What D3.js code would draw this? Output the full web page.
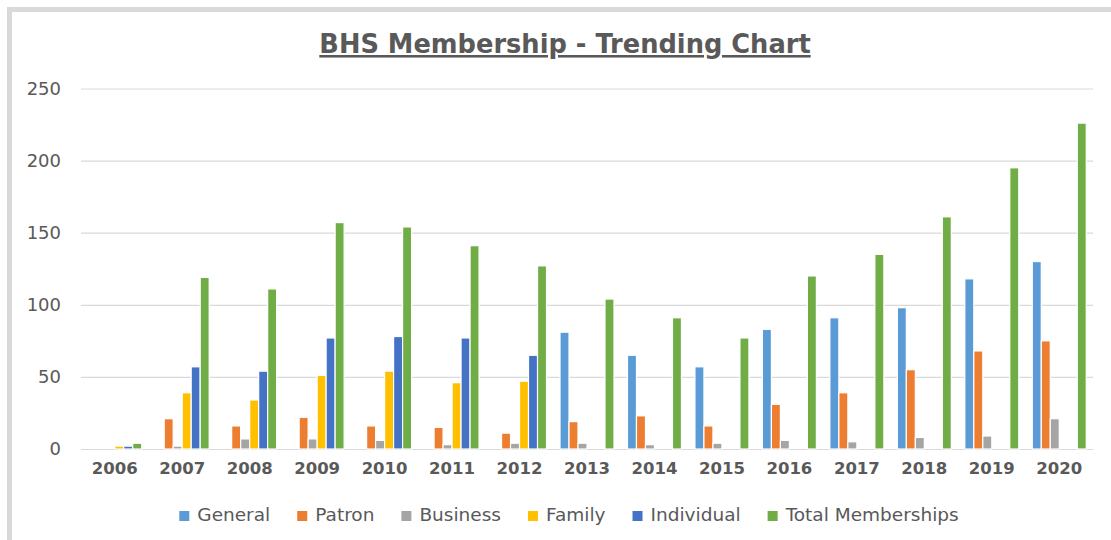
<!DOCTYPE html>
<html lang="en">
<head>
    <meta charset="UTF-8">
    <title>BHS Membership - Trending Chart</title>
    <script src="https://d3js.org/d3.v7.min.js" charset="utf-8"></script>
    <style>
        body {
            margin: 0;
            background: white;
        }
        svg {
            display: block;
            font-family: 'DejaVu Sans', sans-serif;
        }
    </style>
</head>
<body>
    <div id="chart"></div>
    <script>
        // Data
        var years = ['2006', '2007', '2008', '2009', '2010', '2011', '2012', '2013',
                     '2014', '2015', '2016', '2017', '2018', '2019', '2020'];
        var seriesNames = ['General', 'Patron', 'Business', 'Family', 'Individual', 'Total Memberships'];
        var general    = [0, 0, 0, 0, 0, 0, 0, 81, 65, 57, 83, 91, 98, 118, 130];
        var patron     = [0, 21, 16, 22, 16, 15, 11, 19, 23, 16, 31, 39, 55, 68, 75];
        var business   = [0, 2, 7, 7, 6, 3, 4, 4, 3, 4, 6, 5, 8, 9, 21];
        var family     = [2, 39, 34, 51, 54, 46, 47, 0, 0, 0, 0, 0, 0, 0, 0];
        var individual = [2, 57, 54, 77, 78, 77, 65, 0, 0, 0, 0, 0, 0, 0, 0];
        var total      = [4, 119, 111, 157, 154, 141, 127, 104, 91, 77, 120, 135, 161, 195, 226];
        var yTicks = [0, 50, 100, 150, 200, 250];

        var colors = ['#5b9bd5', '#ed7d31', '#a5a5a5', '#ffc000', '#4472c4', '#70ad47'];
        var allSeries = [general, patron, business, family, individual, total];

        var svgwidth = 1111;
        var svgheight = 540;

        var svg = d3.select('#chart').append('svg')
            .attr('width', svgwidth)
            .attr('height', svgheight);

        // grey frame of the chart area (runs off the right and bottom edge)
        svg.append('rect')
            .attr('x', 9.5)
            .attr('y', 9.5)
            .attr('width', 1300)
            .attr('height', 700)
            .attr('fill', 'white')
            .attr('stroke', '#d9d9d9')
            .attr('stroke-width', 5);

        // Title
        svg.append('text')
            .attr('x', 565)
            .attr('y', 53)
            .attr('text-anchor', 'middle')
            .style('font-size', '25.7px')
            .style('font-weight', 'bold')
            .style('fill', '#595959')
            .style('text-decoration', 'underline')
            .text('BHS Membership - Trending Chart');

        // scales
        var x0 = d3.scaleBand()
            .domain(years)
            .range([81, 1093]);

        var x1 = d3.scaleBand()
            .domain(seriesNames)
            .range([0, x0.bandwidth() * 0.8]);

        var y = d3.scaleLinear()
            .domain([0, 250])
            .range([449, 88.5]);

        var color = d3.scaleOrdinal()
            .domain(seriesNames)
            .range(colors);

        // gridlines + y labels
        var yAxis = svg.append('g')
            .attr('transform', 'translate(81,0)')
            .call(d3.axisLeft(y).tickValues(yTicks).tickSize(-(1093 - 81)).tickPadding(20));
        yAxis.select('.domain').remove();
        yAxis.selectAll('.tick line')
            .attr('stroke', '#d9d9d9')
            .attr('stroke-width', 1.2);
        yAxis.selectAll('.tick text')
            .attr('fill', '#595959')
            .style('font-size', '18px')
            .style('font-family', 'DejaVu Sans');

        // x labels (years)
        var xAxis = svg.append('g')
            .attr('transform', 'translate(0,449)')
            .call(d3.axisBottom(x0).tickSize(0).tickPadding(13));
        xAxis.select('.domain').remove();
        xAxis.selectAll('.tick text')
            .attr('fill', '#595959')
            .style('font-size', '16.5px')
            .style('font-weight', 'bold')
            .style('font-family', 'DejaVu Sans');

        // build rows for the grouped bars
        var rows = years.map(function(yr, i) {
            return {
                year: yr,
                values: seriesNames.map(function(name, s) {
                    return { key: name, value: allSeries[s][i] };
                })
            };
        });

        var groups = svg.selectAll('.year')
            .data(rows)
            .enter().append('g')
            .attr('class', 'year')
            .attr('transform', d => 'translate(' + (x0(d.year) + x0.bandwidth() * 0.1) + ',0)');

        groups.selectAll('rect')
            .data(d => d.values.filter(v => v.value > 0))
            .enter().append('rect')
            .attr('x', d => x1(d.key))
            .attr('y', d => y(d.value))
            .attr('width', x1.bandwidth())
            .attr('height', d => y(0) - y(d.value))
            .attr('fill', d => color(d.key))
            .attr('stroke', 'white')
            .attr('stroke-width', 1.2);

        // Legend, centred under the plot
        var legend = svg.append('g');
        var items = legend.selectAll('.legend')
            .data(seriesNames)
            .enter().append('g')
            .attr('class', 'legend');

        items.append('rect')
            .attr('width', 10)
            .attr('height', 10)
            .attr('y', -10)
            .attr('fill', d => color(d));

        items.append('text')
            .attr('x', 18)
            .attr('y', 0)
            .style('font-size', '18.5px')
            .style('fill', '#595959')
            .text(d => d);

        var pos = 0;
        items.each(function() {
            var w = d3.select(this).select('text').node().getComputedTextLength();
            d3.select(this).attr('transform', 'translate(' + pos + ',0)');
            pos += 18 + w + 27;
        });
        var legendWidth = pos - 27;
        legend.attr('transform', 'translate(' + (569 - legendWidth / 2) + ',521)');
    </script>
</body>
</html>
